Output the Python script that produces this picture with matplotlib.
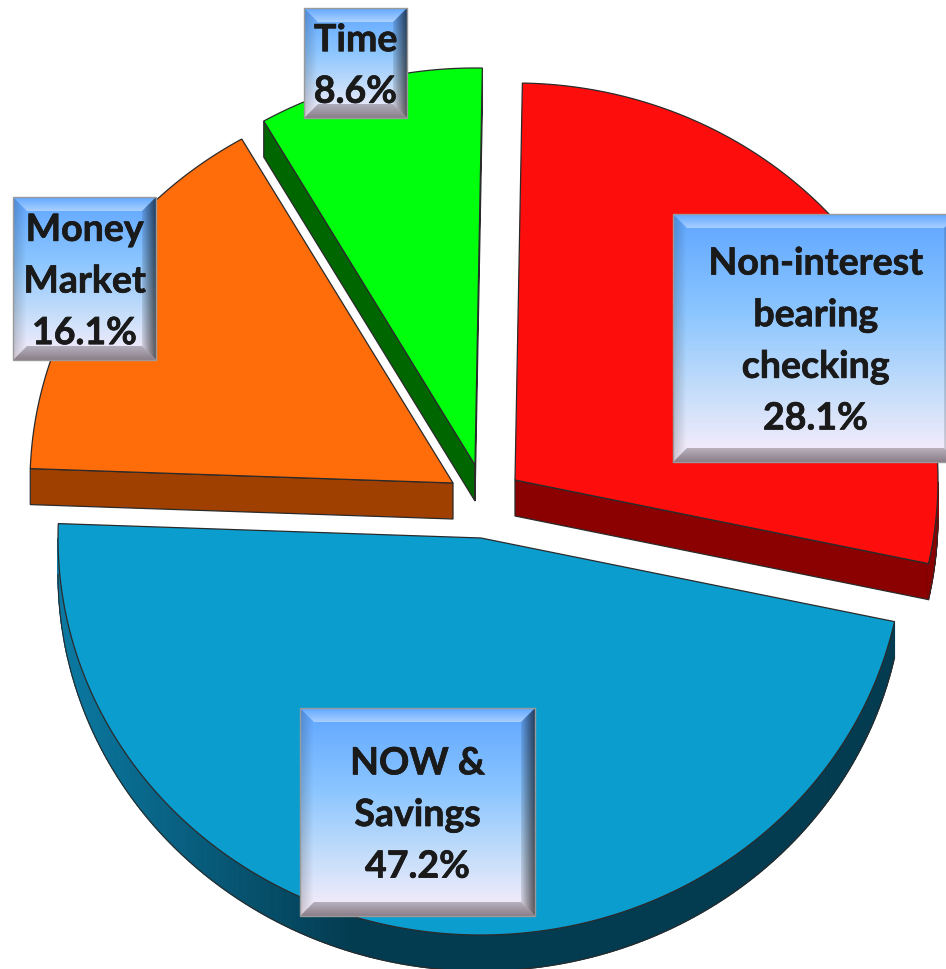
import numpy as np
import matplotlib
matplotlib.use("Agg")
import matplotlib.pyplot as plt
import matplotlib.patheffects as pe
from matplotlib.collections import PolyCollection
from matplotlib.colors import to_rgb
from matplotlib.patches import Polygon

plt.rcParams["font.family"] = ["Lato", "DejaVu Sans"]

# slice data, clockwise from the top
slice_names = ["Non-interest\nbearing\nchecking", "NOW &\nSavings", "Money\nMarket", "Time"]
slice_values = [28.1, 47.2, 16.1, 8.6]
face_colors = ["#FE0D0D", "#0C9DCF", "#FF6C0A", "#00FF0D"]
side_colors = ["#8B0000", "#033B50", "#A04000", "#006600"]

# layout, in pixels of the 946x969 picture
apexes = [(515, 480), (481, 538), (453, 483), (475, 465)]
boxes = [(673, 214, 958, 462), (300, 708, 535, 916), (13, 197, 156, 360), (304, 8, 407, 118)]
START_DEG = 1.0
RX = 423.0
RY = 397.0
DEPTH = 36.0
BEVEL = 14
OUTLINE = "#2A2A2A"


def rim(apex, th):
    th = np.radians(th)
    return apex[0] + RX * np.sin(th), apex[1] - RY * np.cos(th)


def side_color(base, x):
    # the blue rim gets lighter towards the left, the others stay flat
    if base == "#033B50":
        t = np.clip((x - 57) / 300.0, 0, 1)
        a = np.array(to_rgb("#0B7AA3"))
        b = np.array(to_rgb(base))
        return tuple(a + (b - a) * t)
    return base


def draw_slice(ax, apex, th0, th1, face, side):
    ths = np.linspace(th0, th1, 240)
    xs, ys = rim(apex, ths)

    # cut edges that face the viewer: start edge if it leans left, end edge if it leans right
    visible = []
    if xs[0] < apex[0]:
        visible.append((xs[0], ys[0]))
    if xs[-1] > apex[0]:
        visible.append((xs[-1], ys[-1]))
    for end in visible:
        quad = [apex, end, (end[0], end[1] + DEPTH), (apex[0], apex[1] + DEPTH)]
        ax.add_patch(Polygon(quad, closed=True, facecolor=side, edgecolor=OUTLINE, lw=0.9, zorder=2))

    # outer wall, only the front half of the ellipse
    front = np.cos(np.radians(ths)) <= 0
    if front.any():
        quads, cols = [], []
        idx = np.where(front)[0]
        for i, j in zip(idx[:-1], idx[1:]):
            quads.append([(xs[i], ys[i]), (xs[j], ys[j]), (xs[j], ys[j] + DEPTH), (xs[i], ys[i] + DEPTH)])
            cols.append(side_color(side, xs[i]))
        ax.add_collection(PolyCollection(quads, facecolors=cols, edgecolors=cols, linewidths=0.8, zorder=2))
        ax.plot(xs[idx], ys[idx] + DEPTH, color=OUTLINE, lw=0.8, zorder=2.5)

    pts = [apex] + list(zip(xs, ys))
    ax.add_patch(Polygon(pts, closed=True, facecolor=face, edgecolor=OUTLINE, lw=0.9, zorder=3))


def draw_box(ax, box, text):
    x0, y0, x1, y1 = box
    stops = np.array([to_rgb(c) for c in ["#5FA6FF", "#8CC6FF", "#C6DEFA", "#FBEEFB"]])
    pos = [0.0, 0.4, 0.72, 1.0]
    t = np.linspace(0, 1, 256)
    grad = np.stack([np.interp(t, pos, stops[:, k]) for k in range(3)], axis=1)[:, None, :]
    ax.imshow(grad, extent=(x0, x1, y1, y0), aspect="auto", zorder=4, interpolation="bilinear")

    # bevel, drawn as thin strips with changing shade
    sides = {
        "top": ("#FFFFFF", 0.02, 0.42),
        "left": ("#000000", 0.18, 0.0),
        "right": ("#000000", 0.62, 0.12),
        "bottom": ("#3A3038", 0.58, 0.32),
    }
    for name, (col, a0, a1) in sides.items():
        for i in range(BEVEL):
            o, n = i, i + 1
            a = a0 + (a1 - a0) * i / (BEVEL - 1)
            if name == "top":
                q = [(x0 + o, y0 + o), (x1 - o, y0 + o), (x1 - n, y0 + n), (x0 + n, y0 + n)]
            elif name == "bottom":
                q = [(x0 + o, y1 - o), (x1 - o, y1 - o), (x1 - n, y1 - n), (x0 + n, y1 - n)]
            elif name == "left":
                q = [(x0 + o, y0 + o), (x0 + o, y1 - o), (x0 + n, y1 - n), (x0 + n, y0 + n)]
            else:
                q = [(x1 - o, y0 + o), (x1 - o, y1 - o), (x1 - n, y1 - n), (x1 - n, y0 + n)]
            ax.add_patch(Polygon(q, closed=True, facecolor=col, edgecolor="none", alpha=a, zorder=5))
    ax.add_patch(Polygon([(x0, y0), (x1, y0), (x1, y1), (x0, y1)], closed=True, fill=False,
                         edgecolor="#9A9A9A", lw=1.0, zorder=6))
    ax.text((x0 + x1) / 2, (y0 + y1) / 2 + 3, text, ha="center", va="center", fontsize=27,
            fontweight="bold", color="#1A1A1A", linespacing=1.63, zorder=7,
            path_effects=[pe.withStroke(linewidth=0.5, foreground="#1A1A1A")])


def main():
    fig = plt.figure(figsize=(9.46, 9.69), dpi=100)
    ax = fig.add_axes([0, 0, 1, 1])

    th = START_DEG
    for i, val in enumerate(slice_values):
        th1 = th + val * 3.6
        draw_slice(ax, apexes[i], th, th1, face_colors[i], side_colors[i])
        th = th1

    for name, val, box in zip(slice_names, slice_values, boxes):
        draw_box(ax, box, f"{name}\n{val}%")

    ax.set_xlim(0, 946)
    ax.set_ylim(969, 0)
    ax.axis("off")
    fig.savefig("out.png", dpi=100, facecolor="white")
    plt.close(fig)


if __name__ == "__main__":
    main()
